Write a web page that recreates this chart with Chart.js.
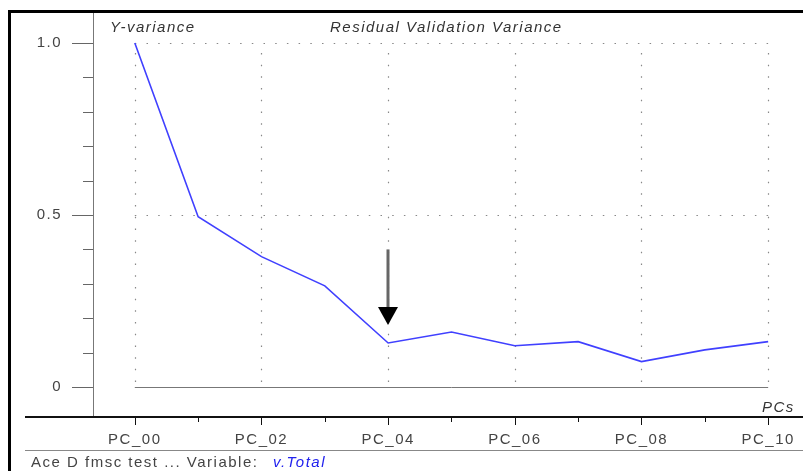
<!DOCTYPE html>
<html>
<head>
<meta charset="utf-8">
<script src="https://cdn.jsdelivr.net/npm/chart.js@4"></script>
<style>
  html, body { margin: 0; padding: 0; background: #fff; }
  canvas { display: block; }
</style>
</head>
<body>
<canvas id="variance-chart" width="803" height="471"></canvas>
<script>
(function () {
    'use strict';

    // Components on the x axis, residual validation Y-variance per component.
    var categories = ['PC_00', 'PC_01', 'PC_02', 'PC_03', 'PC_04', 'PC_05',
                      'PC_06', 'PC_07', 'PC_08', 'PC_09', 'PC_10'];
    var varianceValues = [1.0, 0.495, 0.379, 0.294, 0.128, 0.16,
                          0.12, 0.132, 0.074, 0.108, 0.132];

    // Y tick labels (major) and minor step.
    var yMajorTicks = [0, 0.5, 1.0];
    var yTickLabels = ['0', '0.5', '1.0'];
    var yMinorStep = 0.1;

    // Suggested component (arrow) and its arrow span in y units.
    var markedComponent = 4;
    var arrowFrom = 0.40;
    var arrowTo = 0.18;

    var FONT = '"Liberation Sans", Arial, sans-serif';
    var SPACING = '1.5px';

    // Frame, grid, custom ticks, texts and arrow.
    var decorPlugin = {
        id: 'decor',
        beforeDraw: function (chart) {
            chart.ctx.letterSpacing = SPACING;
        },
        beforeDatasetsDraw: function (chart) {
            var ctx = chart.ctx;
            var xs = chart.scales.x, ys = chart.scales.y;
            var x0 = xs.getPixelForValue(0), x1 = xs.getPixelForValue(categories.length - 1);
            var y0 = ys.getPixelForValue(0), y1 = ys.getPixelForValue(1);
            ctx.save();

            // dotted grid
            ctx.strokeStyle = '#888';
            ctx.lineWidth = 1.2;
            ctx.setLineDash([1.5, 10.2]);
            yMajorTicks.forEach(function (v) {
                if (v === 0) return;
                var y = Math.round(ys.getPixelForValue(v)) + 0.5;
                ctx.beginPath(); ctx.moveTo(x0, y); ctx.lineTo(x1, y); ctx.stroke();
            });
            categories.forEach(function (c, i) {
                if (i % 2) return;
                var x = Math.round(xs.getPixelForValue(i)) + 0.5;
                ctx.beginPath(); ctx.moveTo(x, y1 + 10); ctx.lineTo(x, y0 - 4); ctx.stroke();
            });
            ctx.setLineDash([]);

            // zero line
            ctx.strokeStyle = '#777';
            ctx.lineWidth = 1;
            var yz = Math.round(y0) + 0.5;
            ctx.beginPath(); ctx.moveTo(x0, yz); ctx.lineTo(x1, yz); ctx.stroke();

            // y ticks
            var ax = chart.chartArea.left;
            ctx.strokeStyle = '#666';
            for (var k = 0; k <= 10; k++) {
                var v = k * yMinorStep;
                var major = yMajorTicks.some(function (m) { return Math.abs(m - v) < 1e-6; });
                var y = Math.round(ys.getPixelForValue(v)) + 0.5;
                ctx.beginPath(); ctx.moveTo(ax - (major ? 21 : 10), y); ctx.lineTo(ax, y); ctx.stroke();
            }

            // x ticks
            var by = chart.chartArea.bottom;
            ctx.strokeStyle = '#111';
            categories.forEach(function (c, i) {
                var x = Math.round(xs.getPixelForValue(i)) + 0.5;
                ctx.beginPath(); ctx.moveTo(x, by); ctx.lineTo(x, by + (i % 2 ? 5 : 8)); ctx.stroke();
            });
            ctx.restore();
        },
        afterDraw: function (chart) {
            var ctx = chart.ctx;
            var xs = chart.scales.x, ys = chart.scales.y;
            var area = chart.chartArea;
            ctx.save();

            // outer black frame (top and left)
            ctx.fillStyle = '#000';
            ctx.fillRect(8, 10, 795, 3);
            ctx.fillRect(8, 10, 3, 461);

            // bottom axis line
            ctx.fillStyle = '#111';
            ctx.fillRect(25, area.bottom - 1, 778, 2);

            // footer separator
            ctx.fillStyle = '#888';
            ctx.fillRect(25, 450, 778, 1);

            // titles
            ctx.letterSpacing = SPACING;
            ctx.fillStyle = '#333';
            ctx.textBaseline = 'middle';
            ctx.font = 'italic 15px ' + FONT;
            ctx.fillText('Y-variance', 110, 28);
            ctx.fillText('Residual Validation Variance', 330, 28);
            ctx.fillText('PCs', 762, 408);

            // footer
            ctx.font = '15px ' + FONT;
            ctx.fillStyle = '#444';
            ctx.fillText('Ace D fmsc test ... Variable:', 31, 463);
            ctx.fillStyle = '#2222ee';
            ctx.font = 'italic 15px ' + FONT;
            ctx.fillText('v.Total', 273, 463);

            // arrow at suggested component
            var ax = Math.round(xs.getPixelForValue(markedComponent));
            var ya = ys.getPixelForValue(arrowFrom), yb = ys.getPixelForValue(arrowTo);
            ctx.fillStyle = '#666';
            ctx.fillRect(ax - 1.5, ya, 3, yb - ya - 14);
            ctx.fillStyle = '#000';
            ctx.beginPath();
            ctx.moveTo(ax - 10, yb - 18);
            ctx.lineTo(ax + 10, yb - 18);
            ctx.lineTo(ax, yb);
            ctx.closePath();
            ctx.fill();
            ctx.restore();
        }
    };

    var el = document.getElementById('variance-chart');
    new Chart(el, {
        type: 'line',
        data: {
            datasets: [{
                label: 'Residual Validation Variance',
                data: varianceValues.map(function (v, i) { return { x: i, y: v }; }),
                borderColor: '#4040ff',
                borderWidth: 1.6,
                pointRadius: 0,
                tension: 0,
                fill: false
            }]
        },
        options: {
            responsive: false,
            animation: false,
            events: [],
            layout: { padding: { left: 0, right: 0, top: 13, bottom: 0 } },
            plugins: {
                legend: { display: false },
                tooltip: { enabled: false }
            },
            scales: {
                x: {
                    type: 'linear',
                    min: -0.66,
                    max: 10.55,
                    afterBuildTicks: function (scale) {
                        scale.ticks = categories.map(function (c, i) { return { value: i }; });
                    },
                    afterFit: function (scale) {
                        scale.height = 54;
                        scale.paddingLeft = 0;
                        scale.paddingRight = 0;
                    },
                    grid: { display: false, drawTicks: false },
                    border: { display: false },
                    ticks: {
                        padding: 14,
                        autoSkip: false,
                        maxRotation: 0,
                        color: '#444',
                        font: { family: FONT, size: 15 },
                        callback: function (v) { return v % 2 === 0 ? categories[v] : ''; }
                    }
                },
                y: {
                    min: -0.087,
                    max: 1.087,
                    afterBuildTicks: function (scale) {
                        scale.ticks = yMajorTicks.map(function (v) { return { value: v }; });
                    },
                    afterFit: function (scale) {
                        scale.width = 93;
                        scale.paddingTop = 0;
                        scale.paddingBottom = 0;
                    },
                    grid: { display: false, drawTicks: false },
                    border: { display: true, color: '#777', width: 1 },
                    ticks: {
                        padding: 31,
                        color: '#444',
                        font: { family: FONT, size: 15 },
                        callback: function (v) { return yTickLabels[yMajorTicks.indexOf(v)]; }
                    }
                }
            }
        },
        plugins: [decorPlugin]
    });
})();
</script>
</body>
</html>
